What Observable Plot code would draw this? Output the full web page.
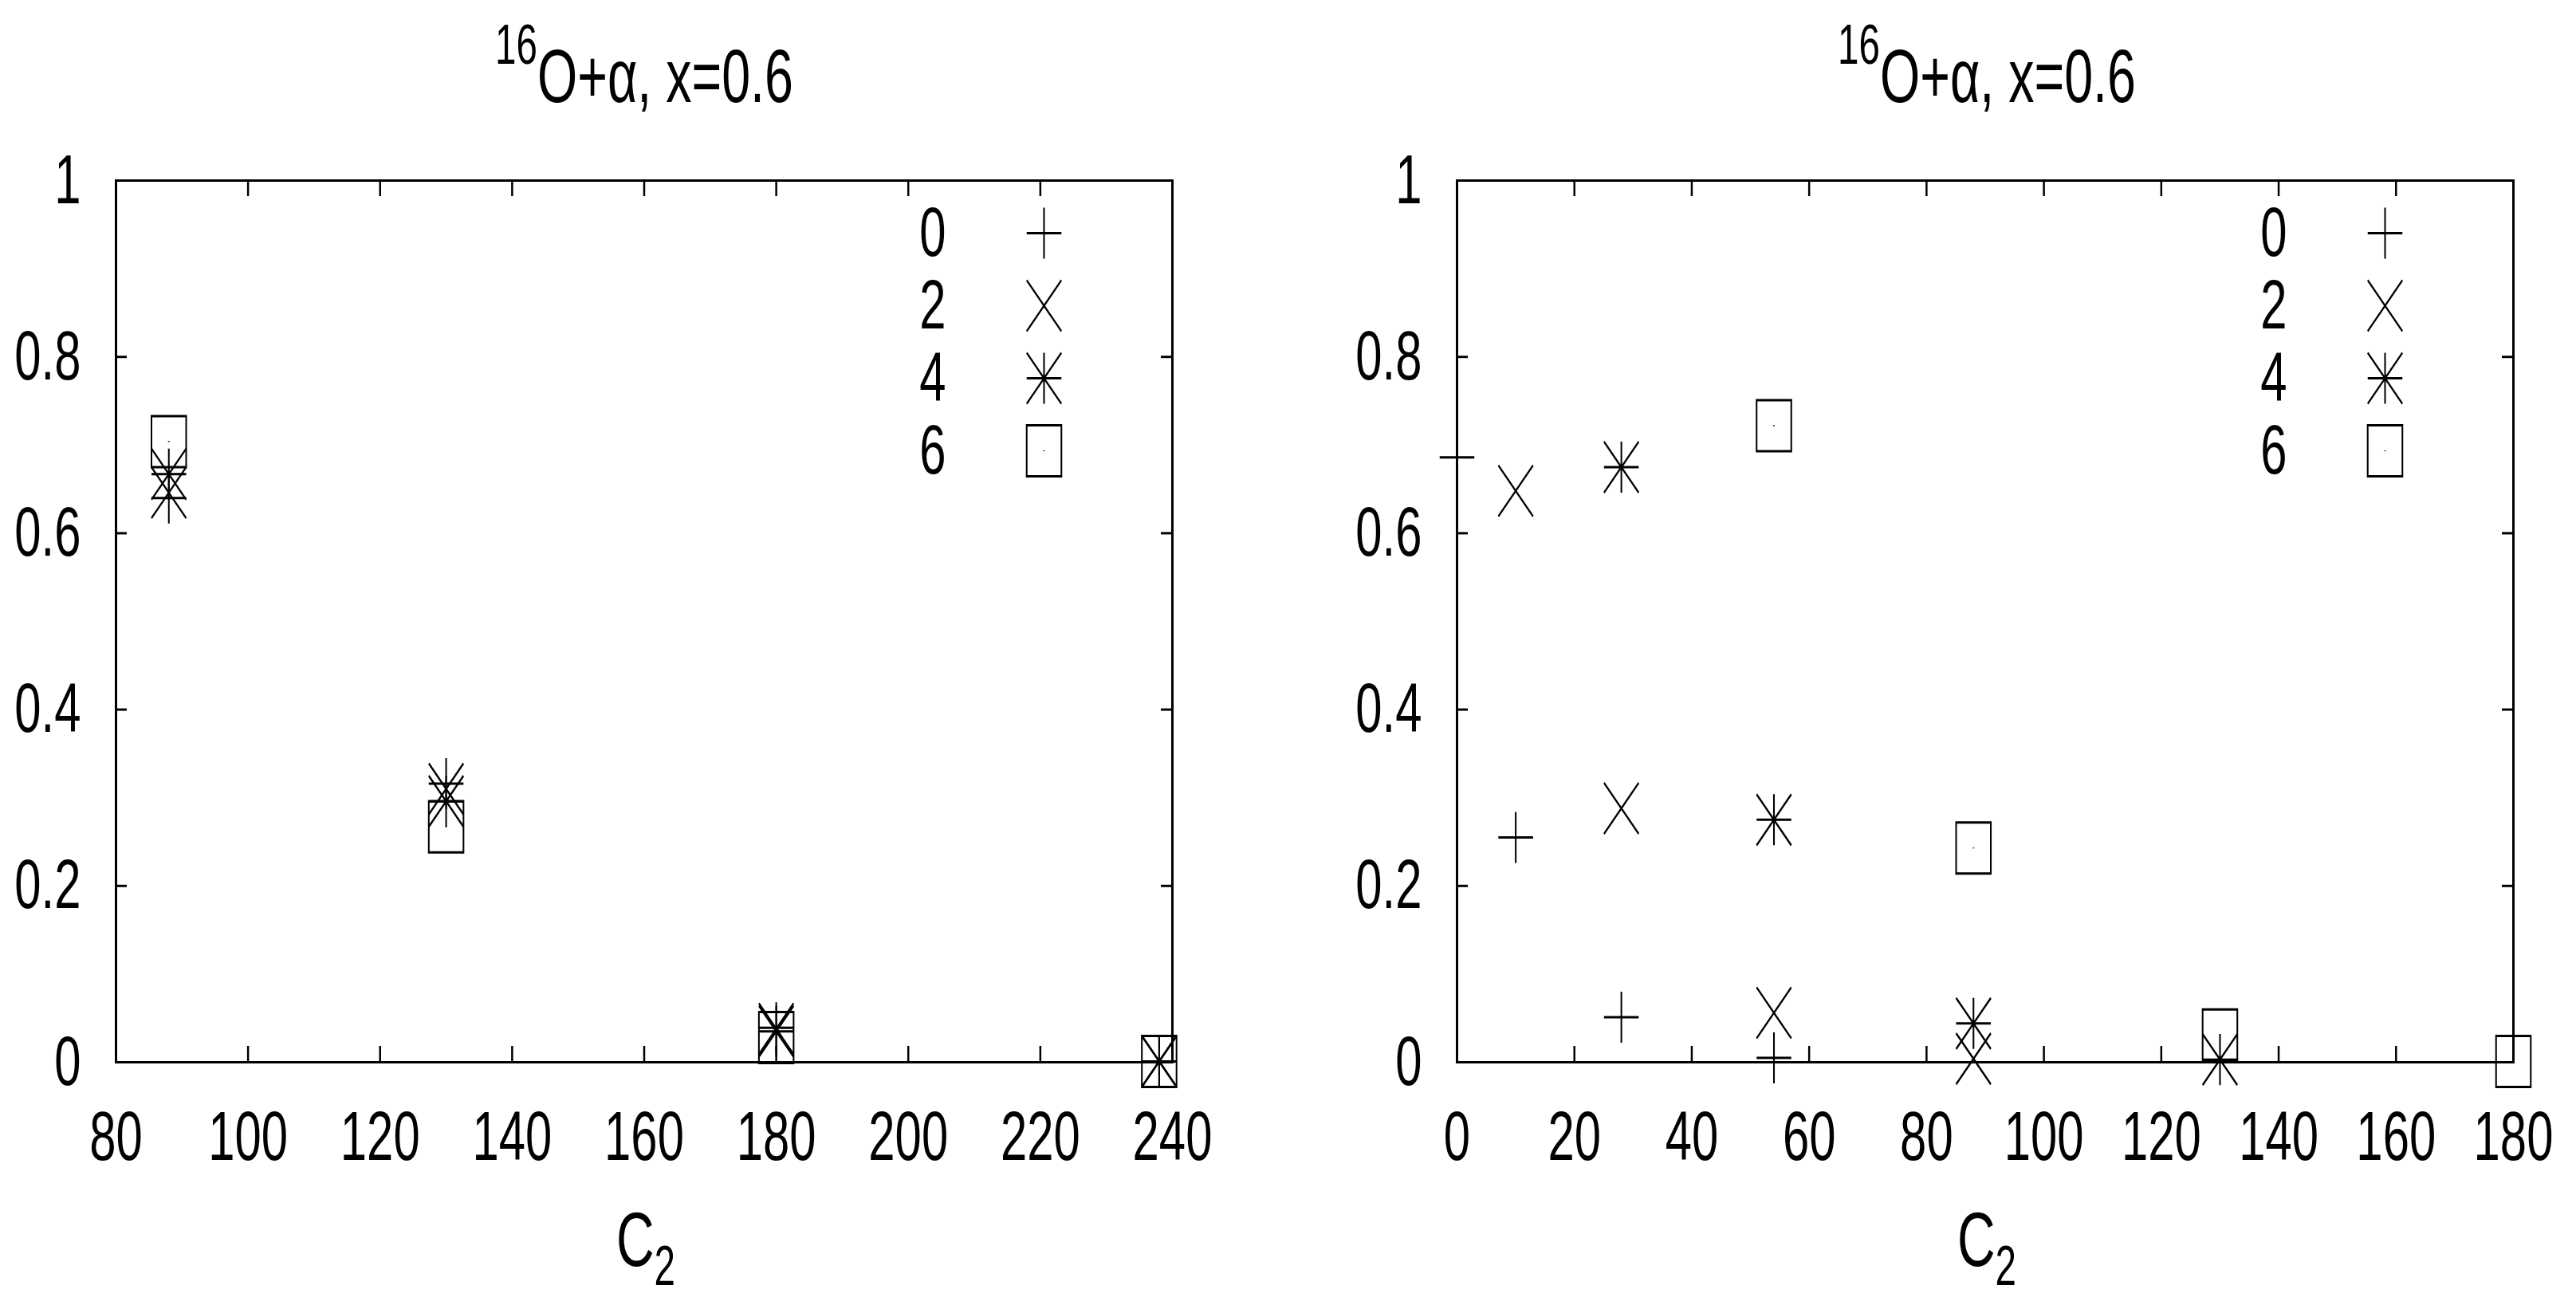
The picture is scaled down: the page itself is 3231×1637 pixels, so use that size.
<!DOCTYPE html>
<html><head><meta charset="utf-8">
<script src="https://cdn.jsdelivr.net/npm/d3@7"></script>
<script src="https://cdn.jsdelivr.net/npm/@observablehq/plot@0.6"></script>
<style>
html,body{margin:0;padding:0;background:#fff;}
#page{position:relative;width:3231px;height:1637px;overflow:hidden;font-family:"Liberation Sans",Arial,Helvetica,sans-serif;color:#000;background:#fff;}
.title,.xlabel{position:absolute;width:900px;text-align:center;line-height:1;white-space:nowrap;transform:scaleX(0.68);transform-origin:50% 50%;}
.title{font-size:95px;top:48px;}
.xlabel{font-size:97px;top:1506px;}
.sup{font-size:70px;position:relative;top:-48px;}
.sub{font-size:70px;position:relative;top:24px;}
.panel{position:absolute;top:200px;}
</style></head><body><div id="page"></div>
<script>
// ---- data ----
const levels = ["0", "2", "4", "6"];
const titleMain = "O+\u03b1, x=0.6";
const titleSup = "16";
const xLabelMain = "C";
const xLabelSub = "2";

const leftC2 = [88, 130, 180, 238];
const leftP0 = [0.640, 0.316, 0.039, 0.001];
const leftP2 = [0.646, 0.310, 0.038, 0.001];
const leftP4 = [0.667, 0.296, 0.035, 0.001];
const leftP6 = [0.704, 0.267, 0.028, 0.001];

const rightC2_0 = [0, 10, 28, 54];
const rightP0 = [0.686, 0.255, 0.051, 0.005];
const rightC2_2 = [10, 28, 54, 88];
const rightP2 = [0.648, 0.288, 0.056, 0.004];
const rightC2_4 = [28, 54, 88, 130];
const rightP4 = [0.675, 0.275, 0.044, 0.003];
const rightC2_6 = [54, 88, 130, 180];
const rightP6 = [0.722, 0.243, 0.031, 0.001];

const leftXTicks = [80, 100, 120, 140, 160, 180, 200, 220, 240];
const rightXTicks = [0, 20, 40, 60, 80, 100, 120, 140, 160, 180];
const yTicks = [0, 0.2, 0.4, 0.6, 0.8, 1];
const yTickLabels = ["0", "0.2", "0.4", "0.6", "0.8", "1"];

// ---- gnuplot-like symbols (drawn unsquished, squeezed afterwards) ----
const rad = s => Math.sqrt(s / Math.PI);
const symPlus = {draw(c, s) { const r = rad(s); c.moveTo(-r, 0); c.lineTo(r, 0); c.moveTo(0, -r); c.lineTo(0, r); }};
const symTimes = {draw(c, s) { const r = rad(s); c.moveTo(-r, -r); c.lineTo(r, r); c.moveTo(r, -r); c.lineTo(-r, r); }};
const symStar = {draw(c, s) { const r = rad(s); c.moveTo(-r, 0); c.lineTo(r, 0); c.moveTo(0, -r); c.lineTo(0, r); c.moveTo(-r, -r); c.lineTo(r, r); c.moveTo(r, -r); c.lineTo(-r, r); }};
const symBox = {draw(c, s) { const r = rad(s); c.moveTo(-r, -r); c.lineTo(r, -r); c.lineTo(r, r); c.lineTo(-r, r); c.closePath(); c.moveTo(0, -0.6); c.lineTo(0, 0.6); }};
const symbols = [symPlus, symTimes, symStar, symBox];

const SQ = 0.68;
const PH = 1300, MT = 26, MB = 168;
const FH = PH - MT - MB;

function squish(svg) {
  svg.querySelectorAll("text").forEach(t => {
    const x = +(t.getAttribute("x") || 0);
    const tr = t.getAttribute("transform") || "";
    t.setAttribute("transform", `${tr} translate(${x},0) scale(${SQ},1) translate(${-x},0)`);
  });
  svg.querySelectorAll('g[aria-label="dot"] path').forEach(p => {
    const tr = p.getAttribute("transform") || "";
    p.setAttribute("transform", `${tr} scale(${SQ},1)`);
  });
}

function panel({series, xDomain, xTicks, width, marginLeft, marginRight}) {
  const FW = width - marginLeft - marginRight;
  const marks = [
    Plot.frame({stroke: "black", strokeWidth: 3}),
    Plot.tickX(xTicks, {x: d => d, insetTop: FH - 20, stroke: "black", strokeWidth: 2.5}),
    Plot.tickX(xTicks, {x: d => d, insetBottom: FH - 20, stroke: "black", strokeWidth: 2.5}),
    Plot.tickY(yTicks, {y: d => d, insetRight: FW - 14, stroke: "black", strokeWidth: 3}),
    Plot.tickY(yTicks, {y: d => d, insetLeft: FW - 14, stroke: "black", strokeWidth: 3}),
    Plot.axisX({ticks: xTicks, tickSize: 0, tickPadding: 60, tickFormat: d => String(d), label: null, fontSize: 88}),
    Plot.axisY({ticks: yTicks, tickSize: 0, tickPadding: 44, tickFormat: d => yTickLabels[yTicks.indexOf(d)], label: null, fontSize: 88})
  ];
  series.forEach((s, i) => {
    const data = s.x.map((x, j) => ({x, y: s.y[j]}));
    marks.push(Plot.dot(data, {x: "x", y: "y", r: 32, symbol: symbols[i], fill: "none", stroke: "black", strokeWidth: 3}));
  });
  levels.forEach((lab, i) => {
    marks.push(Plot.text([lab], {x: () => xDomain[1], y: () => 1, text: d => d, dx: -284, dy: 66 + 91 * i, textAnchor: "end", fontSize: 88, fill: "black"}));
    marks.push(Plot.dot([lab], {x: () => xDomain[1], y: () => 1, dx: -161, dy: 66 + 91 * i, r: 32, symbol: symbols[i], fill: "none", stroke: "black", strokeWidth: 3}));
  });
  const svg = Plot.plot({
    width, height: PH, marginTop: MT, marginBottom: MB, marginLeft, marginRight,
    x: {domain: xDomain, label: null},
    y: {domain: [0, 1], label: null},
    style: {fontFamily: '"Liberation Sans", Arial, sans-serif', fontSize: "88px", background: "white", color: "black", overflow: "visible"},
    marks
  });
  squish(svg);
  return svg;
}

const page = document.getElementById("page");
function addTitle(cx) {
  const d = document.createElement("div");
  d.className = "title";
  d.style.left = (cx - 450) + "px";
  d.innerHTML = `<span class="sup">${titleSup}</span>${titleMain}`;
  page.appendChild(d);
}
function addXLabel(cx) {
  const d = document.createElement("div");
  d.className = "xlabel";
  d.style.left = (cx - 450) + "px";
  d.innerHTML = `${xLabelMain}<span class="sub">${xLabelSub}</span>`;
  page.appendChild(d);
}

const left = panel({
  series: [{x: leftC2, y: leftP0}, {x: leftC2, y: leftP2}, {x: leftC2, y: leftP4}, {x: leftC2, y: leftP6}],
  xDomain: [80, 240], xTicks: leftXTicks, width: 1615, marginLeft: 145, marginRight: 145
});
left.classList.add("panel"); left.style.left = "0px";
page.appendChild(left);

const right = panel({
  series: [{x: rightC2_0, y: rightP0}, {x: rightC2_2, y: rightP2}, {x: rightC2_4, y: rightP4}, {x: rightC2_6, y: rightP6}],
  xDomain: [0, 180], xTicks: rightXTicks, width: 1616, marginLeft: 212, marginRight: 79
});
right.classList.add("panel"); right.style.left = "1615px";
page.appendChild(right);

addTitle(808); addTitle(2492);
addXLabel(810); addXLabel(2492);
</script></body></html>
